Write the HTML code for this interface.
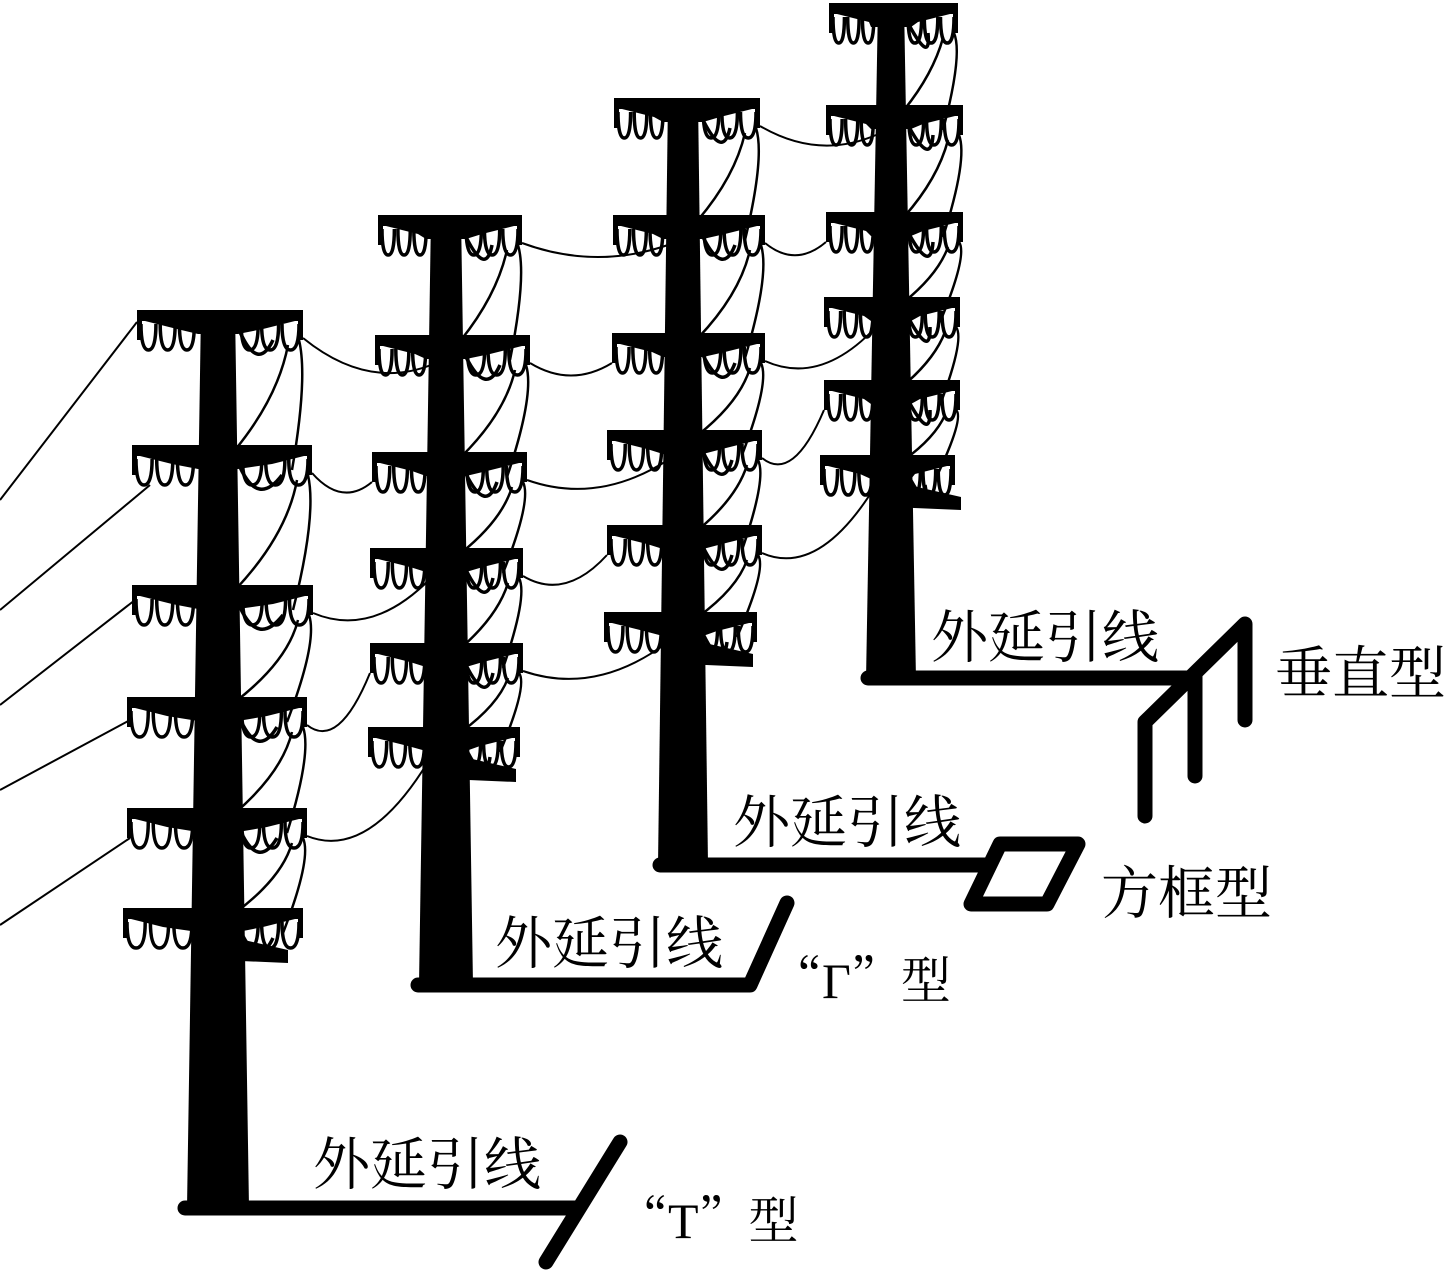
<!DOCTYPE html>
<html><head><meta charset="utf-8">
<style>
html,body{margin:0;padding:0;background:#fff;}
svg{display:block;}
.lb{font-family:"Liberation Serif","Noto Serif CJK SC",serif;font-size:57px;fill:#000;}
.q{font-family:"Noto Serif CJK SC",serif;font-size:50px;fill:#000;}
.lat{font-family:"Liberation Serif",serif;}
</style></head>
<body>
<svg id="s" width="1449" height="1284" viewBox="0 0 1449 1284" xmlns="http://www.w3.org/2000/svg">
<g id="g" fill="none" stroke="#000"></g>
<g stroke="#000" stroke-width="15" stroke-linecap="round" stroke-linejoin="round" fill="none">
<polyline points="185,1208 575,1208"/>
<line x1="620" y1="1142" x2="546" y2="1262"/>
<polyline points="418,985 750,985 787,903"/>
<polyline points="660,865 985,865"/>
<polygon points="1000,844 1078,844 1047,904 971,904"/>
<polyline points="868,678 1195,678"/>
<polyline points="1145,816 1145,722 1245,624 1245,720"/>
<line x1="1195" y1="676" x2="1195" y2="776"/>
</g>
<text class="lb" x="313" y="1184">外延引线</text>
<text class="lb" x="495" y="963">外延引线</text>
<text class="lb" x="733" y="842">外延引线</text>
<text class="lb" x="931" y="657">外延引线</text>
<text class="q" x="618" y="1238">“<tspan class="lat">T</tspan>”型</text>
<text class="q" x="772" y="998">“<tspan class="lat">Γ</tspan>”型</text>
<text class="lb" x="1101" y="913">方框型</text>
<text class="lb" x="1275" y="693">垂直型</text>
</svg>
<script>
var T=[
{cx:218,top:310,bot:1208,wt:34,wb:62,arms:[[310,137,303],[445,132,312],[585,132,313],[697,127,307],[808,127,307],[908,123,303]]},
{cx:446,top:215,bot:985,wt:30,wb:54,arms:[[215,378,522],[335,375,530],[452,372,527],[548,370,523],[643,370,523],[727,368,520]]},
{cx:683,top:98,bot:865,wt:30,wb:50,arms:[[98,614,760],[215,613,765],[333,612,765],[430,607,762],[525,607,762],[612,604,757]]},
{cx:891,top:3,bot:680,wt:26,wb:50,arms:[[3,829,958],[105,826,963],[212,826,963],[297,824,960],[380,824,960],[455,820,955]]}
];
var h='';
function P(d,w){h+='<path d="'+d+'" stroke-width="'+(w||2)+'"/>';}
T.forEach(function(t,ti){
 var a=t.arms;
 h+='<polygon fill="#000" stroke="none" points="'+(t.cx-t.wt/2)+','+t.top+' '+(t.cx+t.wt/2)+','+t.top+' '+(t.cx+t.wb/2)+','+t.bot+' '+(t.cx-t.wb/2)+','+t.bot+'"/>';
 a.forEach(function(r,i){
  var y=r[0],xl=r[1],xr=r[2];
  h+='<rect fill="#000" stroke="none" x="'+xl+'" y="'+y+'" width="'+(xr-xl)+'" height="11"/>';
  h+='<polygon fill="#000" stroke="none" points="'+(xl+8)+','+(y+11)+' '+(xr-8)+','+(y+11)+' '+(xr-40)+','+(y+19)+' '+(t.cx+20)+','+(y+24)+' '+(t.cx-20)+','+(y+24)+' '+(xl+40)+','+(y+19)+'"/>';
  h+='<rect fill="#000" stroke="none" x="'+xl+'" y="'+y+'" width="5" height="30"/>';
  h+='<rect fill="#000" stroke="none" x="'+(xr-5)+'" y="'+y+'" width="5" height="30"/>';
  var L=(t.cx-t.wt/2)-xl;
  var s=L/3;
  for(var k=0;k<3;k++){var x0=xl+4+k*s*0.9,x1=x0+s*0.7;P('M'+x0+','+(y+14)+' Q'+x0+','+(y+40)+' '+((x0+x1)/2)+','+(y+40)+' Q'+x1+','+(y+40)+' '+x1+','+(y+14),3.5);}
  var R=xr-(t.cx+t.wt/2);s=R/3;
  for(k=0;k<3;k++){var x1b=xr-4-k*s*0.9,x0b=x1b-s*0.75;P('M'+x0b+','+(y+14)+' Q'+x0b+','+(y+40)+' '+((x0b+x1b)/2)+','+(y+40)+' Q'+x1b+','+(y+40)+' '+x1b+','+(y+14),3.5);}
  P('M'+(t.cx+t.wt/2+5)+','+(y+22)+' Q'+(t.cx+40)+','+(y+62)+' '+(xr-30)+','+(y+30),3.5);
  if(i<a.length-1){var n=a[i+1];P('M'+(xr-4)+','+(y+30)+' Q'+(xr+5)+','+((y+n[0])/2)+' '+(n[2]-20)+','+(n[0]+25),2.5);
   P('M'+(xr-15)+','+(y+35)+' Q'+(xr-25)+','+((y+n[0])/2+20)+' '+(t.cx+t.wt/2)+','+(n[0]+5),2.5);}
 });
 var la=a[a.length-1];
 h+='<polygon fill="#000" stroke="none" points="'+(t.cx)+','+(la[0]+26)+' '+(t.cx+70)+','+(la[0]+42)+' '+(t.cx+70)+','+(la[0]+55)+' '+(t.cx)+','+(la[0]+52)+'"/>';
 if(ti<3){var nt=T[ti+1];
  for(var i=0;i<5;i++){var r=a[i],n=nt.arms[Math.min(i+1,5)];
   var x0=r[2],y0=r[0]+28,x1=n[1]+(i%2?0:nt.cx-n[1]-15),y1=n[0]+30;
   P('M'+x0+','+y0+' Q'+((x0+x1)/2)+','+(Math.max(y0,y1)+25)+' '+x1+','+y1,2);}
 }
});
[[137,322,0,500],[150,485,0,610],[135,600,0,705],[130,720,0,790],[130,838,0,925]].forEach(function(l){P('M'+l[0]+','+l[1]+' L'+l[2]+','+l[3],2);});
document.getElementById('g').innerHTML=h;
</script>
</body></html>
